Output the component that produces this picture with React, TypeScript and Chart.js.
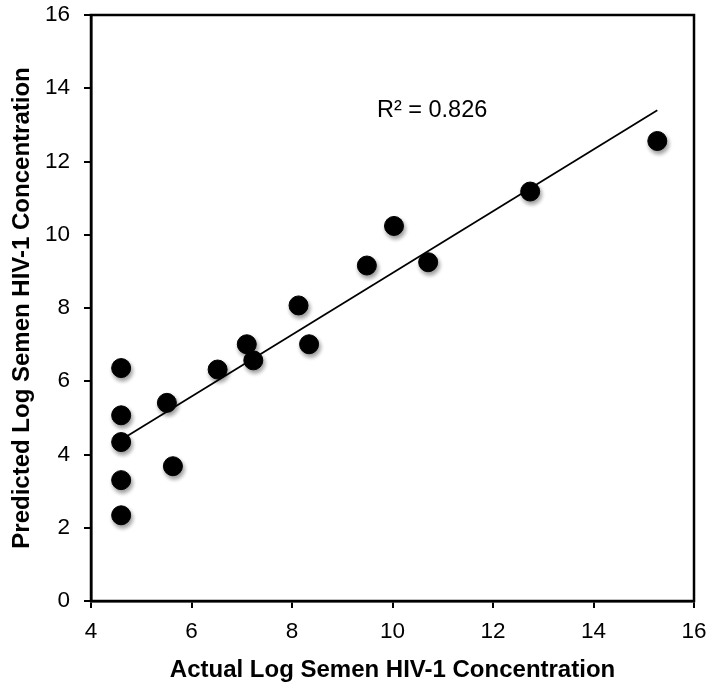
import React, { useEffect, useRef } from "react";
import { Chart, registerables } from "chart.js";

Chart.register(...registerables);

const actualX = [4.6, 4.6, 4.6, 4.6, 4.6, 5.51, 5.63, 6.52, 7.1, 7.23, 8.34, 8.13, 9.49, 10.03, 10.71, 12.74, 15.27];
const predictedY = [2.34, 3.3, 4.34, 5.07, 6.36, 5.41, 3.68, 6.32, 7.01, 6.57, 7.01, 8.07, 9.16, 10.24, 9.25, 11.18, 12.56];
const trendX = [4.6, 15.27];
const trendY = [4.4, 13.4];
const xTicks = [4, 6, 8, 10, 12, 14, 16];
const yTicks = [0, 2, 4, 6, 8, 10, 12, 14, 16];
const r2Label = "R² = 0.826";
const r2Pos = [9.69, 13.4];
const xTitle = "Actual Log Semen HIV-1 Concentration";
const yTitle = "Predicted Log Semen HIV-1 Concentration";

const FONT = '"Liberation Sans", Arial, Helvetica, sans-serif';

export default function App() {
  const ref = useRef<HTMLCanvasElement>(null);
  useEffect(() => {
    if (!ref.current) return;
    const shadowPlugin = {
      id: "shadow",
      beforeDatasetDraw(chart: any, args: any) {
        if (args.index === 0) {
          const c = chart.ctx;
          c.save();
          c.shadowColor = "rgba(0,0,0,0.4)";
          c.shadowBlur = 4;
          c.shadowOffsetX = 1.5;
          c.shadowOffsetY = 3;
        }
      },
      afterDatasetDraw(chart: any, args: any) {
        if (args.index === 0) chart.ctx.restore();
      },
    };
    const framePlugin = {
      id: "frame",
      afterDraw(chart: any) {
        const c = chart.ctx;
        const a = chart.chartArea;
        c.save();
        c.strokeStyle = "#000";
        c.lineWidth = 2.5;
        c.strokeRect(a.left, a.top, a.right - a.left, a.bottom - a.top);
        c.fillStyle = "#000";
        c.font = `23.5px ${FONT}`;
        c.textBaseline = "middle";
        c.textAlign = "left";
        const x = chart.scales.x.getPixelForValue(r2Pos[0]);
        const y = chart.scales.y.getPixelForValue(r2Pos[1]);
        c.fillText(r2Label, x, y);
        c.restore();
      },
    };
    const chart = new Chart(ref.current, {
      type: "scatter",
      data: {
        datasets: [
          {
            label: "Data",
            data: actualX.map((x, i) => ({ x, y: predictedY[i] })),
            backgroundColor: "#000",
            borderColor: "#000",
            borderWidth: 1,
            pointRadius: 9.5,
            pointHoverRadius: 9.5,
            order: 2,
          },
          {
            label: "Trend",
            type: "line",
            data: trendX.map((x, i) => ({ x, y: trendY[i] })),
            borderColor: "#000",
            borderWidth: 1.75,
            pointRadius: 0,
            fill: false,
            order: 1,
          } as any,
        ],
      },
      options: {
        animation: false,
        responsive: false,
        devicePixelRatio: 1,
        layout: { padding: { top: 15, right: 18, left: 0, bottom: 0 } },
        plugins: { legend: { display: false }, tooltip: { enabled: false } },
        scales: {
          x: {
            type: "linear",
            min: 4,
            max: 16,
            afterBuildTicks: (s: any) => {
              s.ticks = xTicks.map((v) => ({ value: v }));
            },
            afterFit: (s: any) => {
              s.height = 86;
              s.paddingLeft = 0;
              s.paddingRight = 0;
            },
            ticks: { color: "#000", font: { family: FONT, size: 22.5 }, padding: 10 },
            grid: { drawOnChartArea: false, drawTicks: true, tickLength: 7, color: "#000", lineWidth: 2 },
            border: { display: true, color: "#000", width: 2.5 },
            title: {
              display: true,
              text: xTitle,
              color: "#000",
              font: { family: FONT, size: 24, weight: "bold" },
              padding: { top: 0, bottom: 2.6 },
            },
          },
          y: {
            type: "linear",
            min: 0,
            max: 16,
            afterBuildTicks: (s: any) => {
              s.ticks = yTicks.map((v) => ({ value: v }));
            },
            afterFit: (s: any) => {
              s.width = 91;
              s.paddingTop = 0;
              s.paddingBottom = 0;
            },
            ticks: { color: "#000", font: { family: FONT, size: 22.5 }, padding: 14 },
            grid: { drawOnChartArea: false, drawTicks: true, tickLength: 7, color: "#000", lineWidth: 2 },
            border: { display: true, color: "#000", width: 2.5 },
            title: {
              display: true,
              text: yTitle,
              color: "#000",
              font: { family: FONT, size: 24, weight: "bold" },
              padding: { top: 7.6, bottom: 0 },
            },
          },
        },
      },
      plugins: [shadowPlugin, framePlugin],
    });
    return () => chart.destroy();
  }, []);
  return (
    <div style={{ position: "absolute", left: 0, top: 0, width: 712, height: 687, background: "#fff" }}>
      <canvas ref={ref} width={712} height={687} />
    </div>
  );
}
